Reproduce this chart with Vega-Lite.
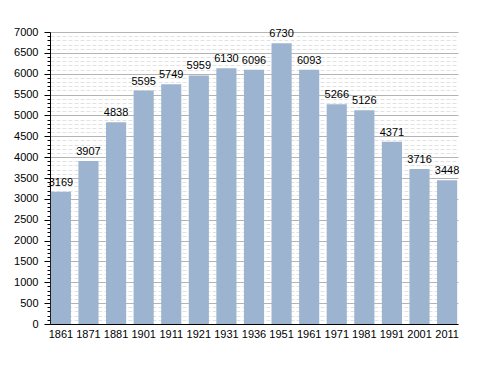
{
  "$schema": "https://vega.github.io/schema/vega-lite/v6.json",
  "width": 408,
  "height": 292,
  "autosize": {"type": "none"},
  "padding": {"left": 50, "top": 32, "right": 30, "bottom": 49},
  "background": "white",
  "config": {
    "view": {"stroke": null},
    "font": "Liberation Sans",
    "axis": {"labelFont": "Liberation Sans", "labelFontSize": 11, "labelColor": "#000"}
  },
  "data": {
    "values": [
      {"year": "1861", "pop": 3169},
      {"year": "1871", "pop": 3907},
      {"year": "1881", "pop": 4838},
      {"year": "1901", "pop": 5595},
      {"year": "1911", "pop": 5749},
      {"year": "1921", "pop": 5959},
      {"year": "1931", "pop": 6130},
      {"year": "1936", "pop": 6096},
      {"year": "1951", "pop": 6730},
      {"year": "1961", "pop": 6093},
      {"year": "1971", "pop": 5266},
      {"year": "1981", "pop": 5126},
      {"year": "1991", "pop": 4371},
      {"year": "2001", "pop": 3716},
      {"year": "2011", "pop": 3448}
    ]
  },
  "encoding": {
    "x": {
      "field": "year", "type": "ordinal", "sort": null, "title": null,
      "scale": {"paddingInner": 0.27, "paddingOuter": 0.03},
      "axis": {"labelAngle": 0, "ticks": false, "domainColor": "#000", "labelPadding": 4}
    },
    "y": {
      "field": "pop", "type": "quantitative", "title": null,
      "scale": {"domain": [0, 7000], "nice": false},
      "axis": {
        "values": [0,100,200,300,400,500,600,700,800,900,1000,1100,1200,1300,1400,1500,1600,1700,1800,1900,2000,2100,2200,2300,2400,2500,2600,2700,2800,2900,3000,3100,3200,3300,3400,3500,3600,3700,3800,3900,4000,4100,4200,4300,4400,4500,4600,4700,4800,4900,5000,5100,5200,5300,5400,5500,5600,5700,5800,5900,6000,6100,6200,6300,6400,6500,6600,6700,6800,6900,7000],
        "labelExpr": "datum.value % 500 === 0 ? datum.value : ''",
        "labelOverlap": false,
        "labelFlush": false,
        "grid": true,
        "gridColor": {"condition": {"test": "datum.value % 500 === 0", "value": "#b4b4b4"}, "value": "#e2e2e2"},
        "gridDash": {"condition": {"test": "datum.value % 500 === 0", "value": []}, "value": [4, 2]},
        "tickColor": "#000",
        "tickSize": {"condition": {"test": "datum.value % 500 === 0", "value": 6}, "value": 3},
        "domainColor": "#000",
        "labelPadding": 6
      }
    }
  },
  "layer": [
    {"mark": {"type": "bar", "color": "#9cb4d0"}},
    {
      "mark": {"type": "text", "baseline": "alphabetic", "dy": -6, "fontSize": 11, "color": "#000", "font": "Liberation Sans"},
      "encoding": {"text": {"field": "pop", "type": "quantitative"}}
    }
  ]
}
